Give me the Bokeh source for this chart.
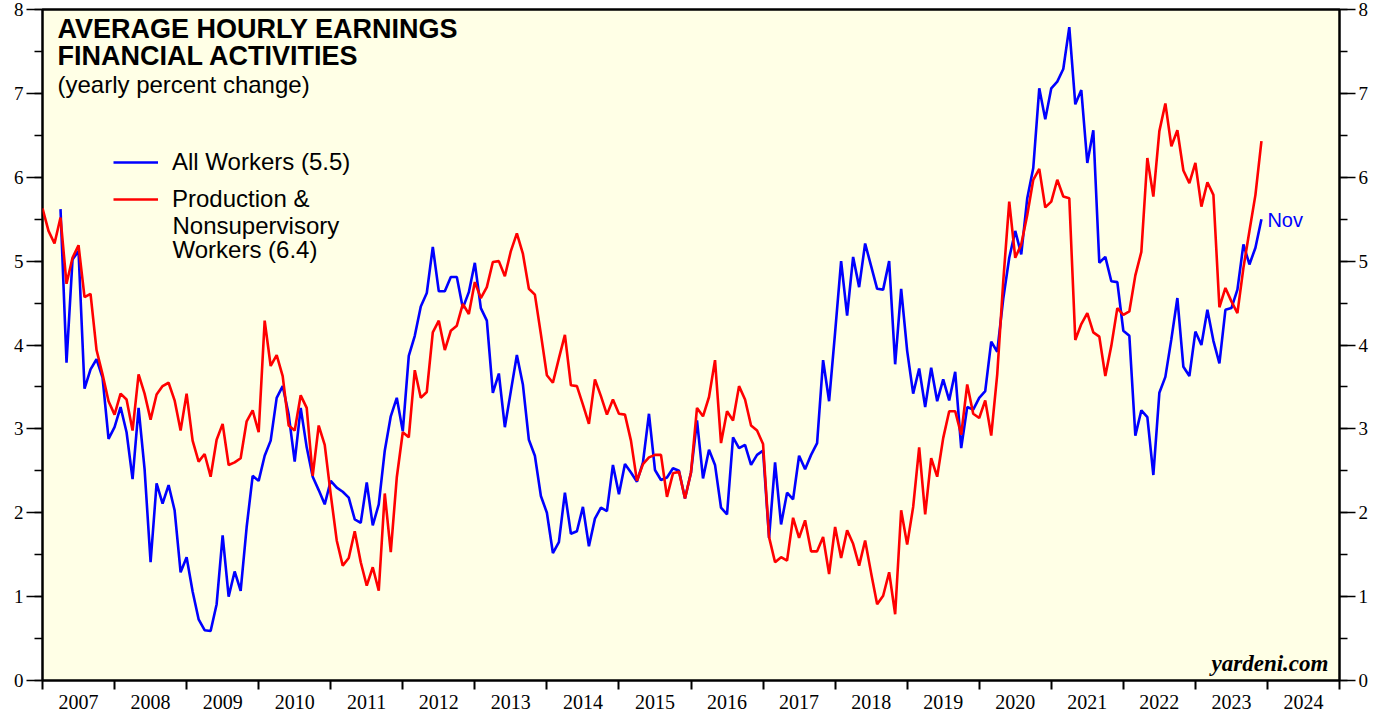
import pandas as pd
from bokeh.plotting import figure
from bokeh.models import (FixedTicker, LinearAxis, Label, Legend, LegendItem,
                          ColumnDataSource, Range1d)
from bokeh.embed import file_html
from bokeh.resources import INLINE

# ---------------- data (yearly % change, monthly) ----------------
prod_start = "2006-12"
all_start = "2007-03"
last_month = "2023-11"

production_workers = [
    5.63, 5.36, 5.21, 5.52, 4.73, 5.04, 5.19, 4.57, 4.61, 3.94,
    3.65, 3.33, 3.17, 3.42, 3.35, 2.98, 3.65, 3.42, 3.11, 3.41,
    3.51, 3.55, 3.34, 2.98, 3.42, 2.86, 2.61, 2.70, 2.43, 2.87,
    3.06, 2.57, 2.60, 2.65, 3.09, 3.22, 2.96, 4.29, 3.75, 3.88,
    3.63, 3.04, 2.98, 3.40, 3.25, 2.44, 3.04, 2.81, 2.22, 1.67,
    1.37, 1.46, 1.78, 1.41, 1.13, 1.35, 1.07, 2.23, 1.53, 2.42,
    2.96, 2.90, 3.70, 3.37, 3.44, 4.15, 4.29, 3.94, 4.17, 4.23,
    4.49, 4.37, 4.75, 4.56, 4.69, 4.99, 5.00, 4.82, 5.12, 5.33,
    5.09, 4.67, 4.60, 4.13, 3.64, 3.55, 3.84, 4.12, 3.52, 3.51,
    3.29, 3.06, 3.59, 3.39, 3.17, 3.35, 3.18, 3.17, 2.86, 2.38,
    2.58, 2.66, 2.69, 2.69, 2.19, 2.47, 2.49, 2.17, 2.48, 3.25,
    3.15, 3.38, 3.82, 2.83, 3.21, 3.10, 3.51, 3.35, 3.04, 2.98,
    2.82, 1.71, 1.41, 1.47, 1.43, 1.94, 1.70, 1.91, 1.54, 1.54,
    1.71, 1.27, 1.83, 1.46, 1.79, 1.63, 1.37, 1.67, 1.28, 0.91,
    1.01, 1.29, 0.79, 2.03, 1.62, 2.07, 2.78, 1.98, 2.65, 2.43,
    2.89, 3.21, 3.21, 2.93, 3.53, 3.18, 3.13, 3.34, 2.92, 3.65,
    4.76, 5.71, 5.04, 5.20, 5.55, 5.97, 6.10, 5.64, 5.71, 5.97,
    5.77, 5.75, 4.06, 4.25, 4.38, 4.15, 4.10, 3.63, 3.99, 4.44,
    4.36, 4.40, 4.83, 5.11, 6.23, 5.77, 6.55, 6.88, 6.37, 6.56,
    6.08, 5.93, 6.17, 5.65, 5.94, 5.79, 4.45, 4.68, 4.52, 4.38,
    4.92, 5.36, 5.79, 6.43,
]

all_workers = [
    5.62, 3.79, 5.02, 5.12, 3.48, 3.71, 3.83,
    3.61, 2.88, 3.02, 3.26, 2.96, 2.40, 3.25, 2.52, 1.41, 2.35,
    2.11, 2.33, 2.03, 1.29, 1.47, 1.06, 0.73, 0.60, 0.59, 0.91,
    1.73, 1.00, 1.30, 1.07, 1.83, 2.44, 2.38, 2.68, 2.86, 3.37,
    3.51, 3.17, 2.61, 3.25, 2.78, 2.43, 2.27, 2.10, 2.38, 2.30,
    2.25, 2.18, 1.92, 1.88, 2.36, 1.85, 2.10, 2.74, 3.15, 3.37,
    2.97, 3.87, 4.11, 4.46, 4.62, 5.17, 4.64, 4.64, 4.81, 4.81,
    4.44, 4.63, 4.98, 4.44, 4.29, 3.43, 3.66, 3.02, 3.45, 3.88,
    3.53, 2.87, 2.68, 2.20, 2.00, 1.52, 1.65, 2.24, 1.75, 1.78,
    2.07, 1.60, 1.93, 2.06, 2.02, 2.57, 2.22, 2.58, 2.48, 2.37,
    2.60, 3.18, 2.51, 2.39, 2.42, 2.53, 2.50, 2.17, 2.48, 3.10,
    2.41, 2.75, 2.57, 2.06, 1.98, 2.90, 2.77, 2.81, 2.57, 2.69,
    2.74, 1.70, 2.60, 1.86, 2.24, 2.16, 2.68, 2.52, 2.69, 2.83,
    3.82, 3.33, 4.15, 5.00, 4.35, 5.05, 4.69, 5.21, 4.94, 4.67,
    4.66, 5.00, 3.77, 4.67, 3.93, 3.42, 3.72, 3.26, 3.73, 3.33,
    3.59, 3.34, 3.68, 2.77, 3.26, 3.23, 3.37, 3.45, 4.04, 3.92,
    4.55, 5.04, 5.36, 5.08, 5.75, 6.11, 7.06, 6.69, 7.06, 7.14,
    7.29, 7.79, 6.87, 7.04, 6.17, 6.56, 4.98, 5.05, 4.76, 4.75,
    4.17, 4.11, 2.92, 3.22, 3.14, 2.45, 3.43, 3.62, 4.07, 4.56,
    3.74, 3.63, 4.16, 4.00, 4.42, 4.05, 3.78, 4.42, 4.44, 4.66,
    5.20, 4.96, 5.16, 5.50,
]

year_labels = [str(y) for y in range(2007, 2025)]
y_tick_values = [0, 1, 2, 3, 4, 5, 6, 7, 8]
legend_all = "All Workers (5.5)"
legend_prod = ["Production &", "Nonsupervisory", "Workers (6.4)"]


def month_end_years(start, end):
    per = pd.period_range(start, end, freq="M")
    return list(per.year + per.month / 12.0)


src_prod = ColumnDataSource(dict(x=month_end_years(prod_start, last_month), y=production_workers))
src_all = ColumnDataSource(dict(x=month_end_years(all_start, last_month), y=all_workers))

# ---------------- figure ----------------
x0 = int(year_labels[0])
x1 = int(year_labels[-1]) + 1
p = figure(width=1382, height=712, output_backend="svg", toolbar_location=None,
           x_range=Range1d(x0, x1), y_range=Range1d(0, 8),
           min_border_left=42, min_border_right=43, min_border_top=9, min_border_bottom=32)
p.background_fill_color = "#FFFFE6"
p.border_fill_color = "white"
p.outline_line_color = "black"
p.outline_line_width = 2.5
p.xgrid.visible = False
p.ygrid.visible = False

r_all = p.line("x", "y", source=src_all, line_color="#0000FF", line_width=2.6)
r_prod = p.line("x", "y", source=src_prod, line_color="#FF0000", line_width=2.6)

# x axis: labels at mid-year, ticks at year boundaries
xa = p.xaxis[0]
xa.ticker = FixedTicker(ticks=[int(y) + 0.5 for y in year_labels],
                        minor_ticks=list(range(x0, x1 + 1)))
xa.major_label_overrides = {int(y) + 0.5: y for y in year_labels}
xa.axis_line_color = None
xa.major_tick_line_color = None
xa.major_tick_out = 0
xa.major_tick_in = 0
xa.minor_tick_out = 9
xa.minor_tick_in = 0
xa.minor_tick_line_width = 2
xa.minor_tick_line_color = "black"
xa.major_label_standoff = 5
xa.major_label_text_font = "Liberation Serif"
xa.major_label_text_font_size = "20px"
xa.major_label_text_color = "black"

ytick = FixedTicker(ticks=y_tick_values, minor_ticks=[v / 2 for v in range(0, 17)])


def style_y(ax):
    ax.ticker = ytick
    ax.axis_line_color = None
    ax.major_tick_out = 16
    ax.major_tick_in = 0
    ax.minor_tick_out = 8
    ax.minor_tick_in = 0
    ax.major_tick_line_width = 1.5
    ax.minor_tick_line_width = 1.5
    ax.major_tick_line_color = "black"
    ax.minor_tick_line_color = "black"
    ax.major_label_standoff = 3
    ax.major_label_text_font = "Liberation Serif"
    ax.major_label_text_font_size = "19px"
    ax.major_label_text_color = "black"


style_y(p.yaxis[0])
ry = LinearAxis()
style_y(ry)
p.add_layout(ry, "right")

# ---------------- texts ----------------
def px_x(px):
    return x0 + (px - 42) / 72.06


def px_y(py):
    return (680 - py) / 83.9


def add_text(txt, px, py, size, bold=False, color="black", font="Liberation Sans",
             align="left", italic=False):
    style = "normal"
    if bold and italic:
        style = "bold italic"
    elif bold:
        style = "bold"
    elif italic:
        style = "italic"
    p.add_layout(Label(x=px_x(px), y=px_y(py), text=txt, text_font=font,
                       text_font_size=size, text_font_style=style, text_color=color,
                       text_align=align, text_baseline="alphabetic"))


add_text("AVERAGE HOURLY EARNINGS", 57, 28, "27px", bold=True)
add_text("FINANCIAL ACTIVITIES", 57, 55, "27px", bold=True)
add_text("(yearly percent change)", 57, 84, "24px")
add_text(legend_prod[1], 172, 225, "24px")
add_text(legend_prod[2], 172, 249, "24px")
add_text("Nov", 1267, 219, "20px", color="#0000FF")
add_text("yardeni.com", 1328, 663, "23px", bold=True, italic=True,
         font="Liberation Serif", align="right")

legend = Legend(items=[LegendItem(label=legend_all, renderers=[r_all]),
                       LegendItem(label=legend_prod[0], renderers=[r_prod])],
                location=(71, 467), orientation="vertical")
legend.glyph_width = 45
legend.glyph_height = 26
legend.label_height = 26
legend.spacing = 9
legend.padding = 0
legend.margin = 0
legend.label_standoff = 14
legend.label_text_font = "Liberation Sans"
legend.label_text_font_size = "24px"
legend.label_text_color = "black"
legend.background_fill_alpha = 0
legend.border_line_alpha = 0
p.add_layout(legend, "center")

open("out.html", "w").write(file_html(p, INLINE))
